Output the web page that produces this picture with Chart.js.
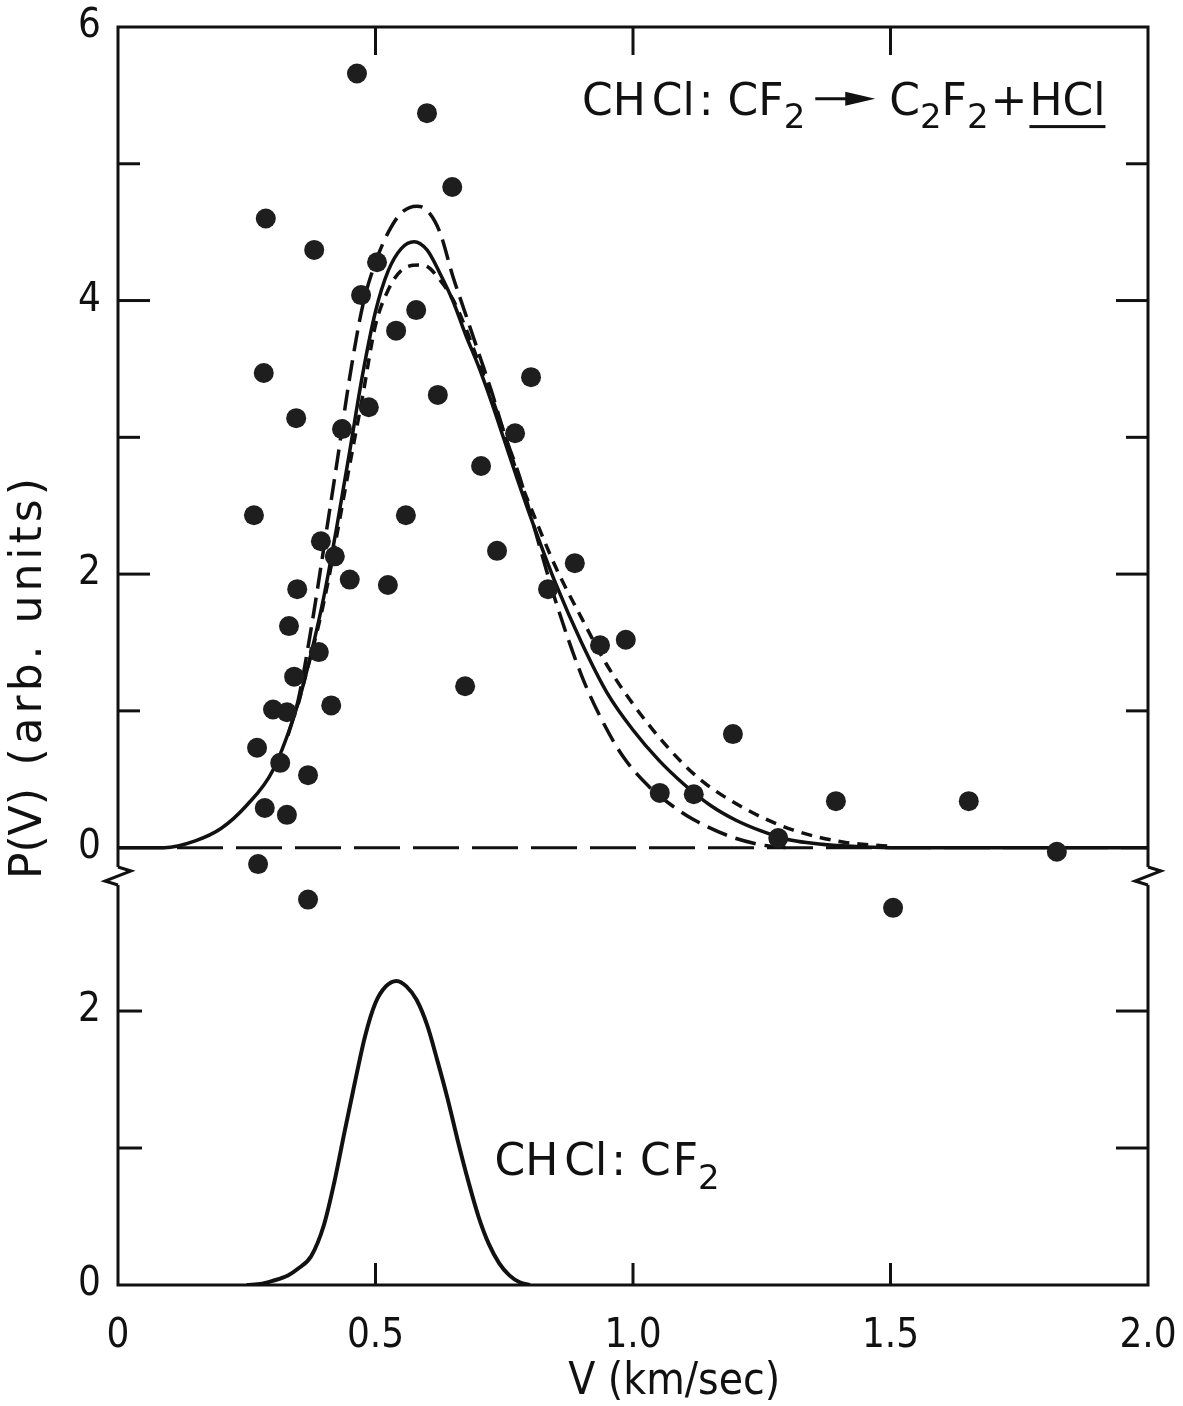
<!DOCTYPE html>
<html lang="en">
<head>
<meta charset="utf-8">
<title>P(V) CHCl:CF2</title>
<script src="https://cdn.jsdelivr.net/npm/chart.js@4.4.1/dist/chart.umd.min.js"></script>
<style>
html,body{margin:0;padding:0;background:#ffffff;}
#wrap{width:1183px;height:1406px;}
canvas{display:block;}
</style>
</head>
<body>
<div id="wrap"><canvas id="chart" width="1183" height="1406"></canvas></div>
<script>
// ---------------- data ----------------
const xTickValues = [0, 0.5, 1.0, 1.5, 2.0];
const xTickLabels = ['0', '0.5', '1.0', '1.5', '2.0'];
const upperTickValues = [0, 1, 2, 3, 4, 5, 6];
const upperTickLabels = ['0', '', '2', '', '4', '', '6'];
const lowerTickValues = [0, 1, 2];
const lowerTickLabels = ['0', '', '2'];

// measured points (upper panel)
const measuredV = [0.464,0.600,0.649,0.287,0.381,0.503,0.472,0.579,0.540,0.283,0.802,0.621,0.487,0.346,0.435,0.771,0.705,0.264,0.559,0.394,0.421,0.736,0.887,0.450,0.348,0.835,0.524,0.332,0.986,0.936,0.390,0.342,0.301,0.328,0.414,0.674,1.194,0.270,0.315,0.369,1.052,1.118,1.394,1.652,0.285,0.328,1.282,1.823,0.272,0.369,1.505];
const measuredP = [5.66,5.37,4.83,4.60,4.37,4.28,4.04,3.93,3.78,3.47,3.44,3.31,3.22,3.14,3.06,3.03,2.79,2.43,2.43,2.24,2.13,2.17,2.08,1.96,1.89,1.89,1.92,1.62,1.52,1.48,1.43,1.25,1.01,0.99,1.04,1.18,0.83,0.73,0.62,0.53,0.40,0.39,0.34,0.34,0.29,0.24,0.07,-0.03,-0.12,-0.38,-0.44];

// fitted curves (upper panel)
const solidV = [0,0.09,0.15,0.2,0.25,0.3,0.35,0.375,0.4,0.425,0.45,0.475,0.5,0.525,0.55,0.575,0.6,0.625,0.65,0.675,0.7,0.725,0.75,0.775,0.8,0.85,0.9,0.95,1.0,1.05,1.1,1.15,1.2,1.25,1.3,1.4,1.5,2.0];
const solidP = [0,0,0.05,0.14,0.31,0.56,1.06,1.42,1.84,2.35,2.9,3.46,3.92,4.22,4.38,4.43,4.37,4.2,4.0,3.75,3.52,3.26,2.98,2.7,2.43,1.93,1.5,1.13,0.86,0.64,0.46,0.31,0.2,0.12,0.06,0.015,0,0];

const longDashV = [0.33,0.35,0.375,0.4,0.425,0.45,0.475,0.5,0.525,0.55,0.58,0.6,0.625,0.65,0.675,0.7,0.725,0.75,0.78,0.8,0.85,0.9,0.936,0.98,1.03,1.075,1.12,1.19,1.25,1.3];
const longDashP = [0.82,1.08,1.6,2.2,2.81,3.44,3.96,4.28,4.5,4.64,4.69,4.66,4.5,4.18,3.9,3.62,3.34,3.03,2.71,2.45,1.8,1.26,0.96,0.67,0.45,0.31,0.2,0.08,0.02,0];

const shortDashV = [0.35,0.4,0.45,0.475,0.5,0.525,0.55,0.585,0.6,0.625,0.65,0.675,0.7,0.725,0.75,0.775,0.8,0.85,0.9,0.947,1.0,1.066,1.13,1.22,1.31,1.41,1.5];
const shortDashP = [1.05,1.8,2.8,3.3,3.82,4.08,4.22,4.26,4.25,4.15,4.01,3.8,3.55,3.3,3.03,2.74,2.5,2.05,1.68,1.35,1.05,0.74,0.5,0.28,0.13,0.04,0.01];

const zeroLineV = [0, 2.0];
const zeroLineP = [0, 0];

// lower panel: CHCl:CF2 beam distribution
const beamV = [0.25,0.28,0.3,0.33,0.35,0.375,0.4,0.42,0.44,0.46,0.48,0.5,0.52,0.541,0.56,0.58,0.6,0.62,0.64,0.66,0.68,0.7,0.72,0.74,0.76,0.78,0.8];
const beamP = [0,0.01,0.03,0.07,0.12,0.21,0.44,0.75,1.12,1.48,1.82,2.06,2.18,2.22,2.18,2.08,1.9,1.64,1.36,1.05,0.76,0.5,0.3,0.16,0.07,0.02,0];

// ---------------- presentation ----------------
const INK = '#111111';
const FONT = '"DejaVu Sans Condensed", "Liberation Sans Narrow", "DejaVu Sans", sans-serif';
const FONT_WIDE = '"DejaVu Sans", "Liberation Sans", sans-serif';
const toXY = (xs, ys) => xs.map((v, i) => ({x: v, y: ys[i]}));
const labelFrom = (vals, labels) => (v) => { const i = vals.indexOf(v); return i < 0 ? '' : labels[i]; };

const reactionRuns = [
  {t:'CH'},{gap:6},{t:'Cl'},{gap:4},{t:':'},{gap:14},{t:'CF'},{t:'2',sub:true},{gap:10},
  {arrow:60},{gap:14},{t:'C'},{t:'2',sub:true},{t:'F'},{t:'2',sub:true},{gap:2},{t:'+'},{gap:2},{t:'HCl',u:true}
];
const beamRuns = [
  {t:'CH'},{gap:6},{t:'Cl'},{gap:4},{t:':'},{gap:14},{t:'C'},{gap:2},{t:'F'},{t:'2',sub:true}
];
const reactionAt = {v: 0.901, p: 5.36};
const beamLabelAt = {v: 0.731, p: 0.80};
const yTitleMain = 'P(V)';
const yTitleUnit = '(arb. units)';
const yTitleSpan = {mainFrom: -0.23, unitFrom: 0.6, unitTo: 3.25};

function drawRuns(ctx, x, y, runs, size) {
  for (const r of runs) {
    if (r.gap) { x += r.gap; continue; }
    if (r.arrow) {
      const ym = y - size * 0.36;
      ctx.lineWidth = 3;
      ctx.beginPath(); ctx.moveTo(x, ym); ctx.lineTo(x + r.arrow - 20, ym); ctx.stroke();
      ctx.beginPath();
      ctx.moveTo(x + r.arrow, ym);
      ctx.lineTo(x + r.arrow - 30, ym - 7);
      ctx.lineTo(x + r.arrow - 30, ym + 7);
      ctx.closePath(); ctx.fill();
      x += r.arrow; continue;
    }
    const fs = r.sub ? Math.round(size * 0.78) : size;
    ctx.font = fs + 'px ' + FONT_WIDE;
    const dy = r.sub ? size * 0.3 : 0;
    ctx.fillText(r.t, x, y + dy);
    const w = ctx.measureText(r.t).width;
    if (r.u) ctx.fillRect(x, y + size * 0.24, w, 3);
    x += w;
  }
}

// text spread evenly over a given length
function drawSpaced(ctx, text, x, y, length) {
  const chars = Array.from(text);
  const widths = chars.map(c => ctx.measureText(c).width);
  const natural = widths.reduce((s, w) => s + w, 0);
  const extra = chars.length > 1 ? Math.min(4, Math.max(0, (length - natural) / (chars.length - 1))) : 0;
  chars.forEach((c, i) => { ctx.fillText(c, x, y); x += widths[i] + extra; });
}

const framePlugin = {
  id: 'frame',
  afterDraw(chart) {
    const {ctx, chartArea: a, scales} = chart;
    const xs = scales.x, yU = scales.yUp, yL = scales.yLow;
    const by = yU.bottom;
    ctx.save();
    ctx.strokeStyle = INK; ctx.fillStyle = INK; ctx.lineWidth = 3; ctx.lineJoin = 'miter';
    ctx.beginPath();
    ctx.moveTo(a.left, by - 8); ctx.lineTo(a.left, a.top); ctx.lineTo(a.right, a.top); ctx.lineTo(a.right, by - 8);
    ctx.stroke();
    ctx.beginPath();
    ctx.moveTo(a.left, by + 10); ctx.lineTo(a.left, a.bottom); ctx.lineTo(a.right, a.bottom); ctx.lineTo(a.right, by + 10);
    ctx.stroke();
    for (const xp of [a.left, a.right]) {
      ctx.beginPath();
      ctx.moveTo(xp, by - 8); ctx.lineTo(xp + 13, by - 4); ctx.lineTo(xp - 13, by + 6); ctx.lineTo(xp, by + 10);
      ctx.stroke();
    }
    const seg = (x1, y1, x2, y2) => { ctx.beginPath(); ctx.moveTo(x1, y1); ctx.lineTo(x2, y2); ctx.stroke(); };
    upperTickValues.forEach((v, i) => {
      if (v <= 0 || v >= 6) return;
      const py = yU.getPixelForValue(v);
      const len = upperTickLabels[i] ? 32 : 22;
      seg(a.left, py, a.left + len, py);
      seg(a.right, py, a.right - len, py);
    });
    lowerTickValues.forEach((v) => {
      if (v <= 0) return;
      const py = yL.getPixelForValue(v);
      seg(a.left, py, a.left + 24, py);
      seg(a.right, py, a.right - 32, py);
    });
    xTickValues.forEach((v) => {
      if (v <= 0 || v >= 2) return;
      const px = xs.getPixelForValue(v);
      seg(px, a.bottom, px, a.bottom - 22);
      seg(px, a.top, px, a.top + 28);
    });
    // annotations
    ctx.textBaseline = 'alphabetic'; ctx.textAlign = 'left';
    drawRuns(ctx, xs.getPixelForValue(reactionAt.v), yU.getPixelForValue(reactionAt.p), reactionRuns, 44);
    drawRuns(ctx, xs.getPixelForValue(beamLabelAt.v), yL.getPixelForValue(beamLabelAt.p), beamRuns, 44);
    // axis titles
    ctx.font = '44px ' + FONT;
    ctx.textAlign = 'center'; ctx.textBaseline = 'middle';
    ctx.fillText('V (km/sec)', xs.getPixelForValue(1.08), a.bottom + 98);
    ctx.save();
    const y0 = yU.getPixelForValue(yTitleSpan.mainFrom);
    ctx.translate(a.left - 88, y0);
    ctx.rotate(-Math.PI / 2);
    ctx.textAlign = 'left';
    ctx.font = '44px ' + FONT_WIDE;
    ctx.fillText(yTitleMain, 0, 0);
    const u0 = y0 - yU.getPixelForValue(yTitleSpan.unitFrom);
    const uLen = yU.getPixelForValue(yTitleSpan.unitFrom) - yU.getPixelForValue(yTitleSpan.unitTo);
    drawSpaced(ctx, yTitleUnit, u0, 0, uLen);
    ctx.restore();
    ctx.restore();
  }
};

const tickFont = {family: FONT, size: 40};

new Chart(document.getElementById('chart'), {
  type: 'scatter',
  data: {
    datasets: [
      {label: 'measured', data: toXY(measuredV, measuredP), yAxisID: 'yUp',
       pointRadius: 10, pointBackgroundColor: '#1e1e1e', pointBorderWidth: 0, clip: false},
      {label: 'fit', type: 'line', data: toXY(solidV, solidP), yAxisID: 'yUp',
       borderColor: INK, borderWidth: 3.5, pointRadius: 0, cubicInterpolationMode: 'monotone', fill: false},
      {label: 'fit (long dash)', type: 'line', data: toXY(longDashV, longDashP), yAxisID: 'yUp',
       borderColor: INK, borderWidth: 3.5, borderDash: [21, 9], pointRadius: 0, cubicInterpolationMode: 'monotone', fill: false},
      {label: 'fit (short dash)', type: 'line', data: toXY(shortDashV, shortDashP), yAxisID: 'yUp',
       borderColor: INK, borderWidth: 3.5, borderDash: [11, 8], pointRadius: 0, cubicInterpolationMode: 'monotone', fill: false},
      {label: 'zero', type: 'line', data: toXY(zeroLineV, zeroLineP), yAxisID: 'yUp',
       borderColor: INK, borderWidth: 3, borderDash: [46, 13], pointRadius: 0, fill: false},
      {label: 'CHCl:CF2', type: 'line', data: toXY(beamV, beamP), yAxisID: 'yLow',
       borderColor: INK, borderWidth: 4, pointRadius: 0, cubicInterpolationMode: 'monotone', fill: false}
    ]
  },
  options: {
    responsive: false,
    animation: false,
    events: [],
    layout: {padding: {top: 27, right: 35, left: 0, bottom: 0}},
    plugins: {legend: {display: false}, tooltip: {enabled: false}, title: {display: false}},
    scales: {
      x: {
        type: 'linear', min: 0, max: 2, bounds: 'data',
        afterBuildTicks: (s) => { s.ticks = xTickValues.map(v => ({value: v})); },
        afterFit: (s) => { s.height = 121; s.paddingLeft = 0; s.paddingRight = 0; },
        ticks: {callback: labelFrom(xTickValues, xTickLabels), font: tickFont, color: INK, padding: 20,
                autoSkip: false, maxRotation: 0, minRotation: 0},
        grid: {display: false}, border: {display: false}
      },
      yLow: {
        type: 'linear', position: 'left', stack: 'v', stackWeight: 410, min: 0, max: 2.993, bounds: 'data',
        afterBuildTicks: (s) => { s.ticks = lowerTickValues.map(v => ({value: v})); },
        afterFit: (s) => { s.width = 118; s.paddingTop = 0; s.paddingBottom = 0; },
        ticks: {callback: labelFrom(lowerTickValues, lowerTickLabels), font: tickFont, color: INK, padding: 9, autoSkip: false},
        grid: {display: false}, border: {display: false}
      },
      yUp: {
        type: 'linear', position: 'left', stack: 'v', stackWeight: 848, min: -0.2, max: 6, bounds: 'data',
        afterBuildTicks: (s) => { s.ticks = upperTickValues.map(v => ({value: v})); },
        afterFit: (s) => { s.width = 118; s.paddingTop = 0; s.paddingBottom = 0; },
        ticks: {callback: labelFrom(upperTickValues, upperTickLabels), font: tickFont, color: INK, padding: 9, autoSkip: false},
        grid: {display: false}, border: {display: false}
      }
    }
  },
  plugins: [framePlugin]
});
</script>
</body>
</html>
